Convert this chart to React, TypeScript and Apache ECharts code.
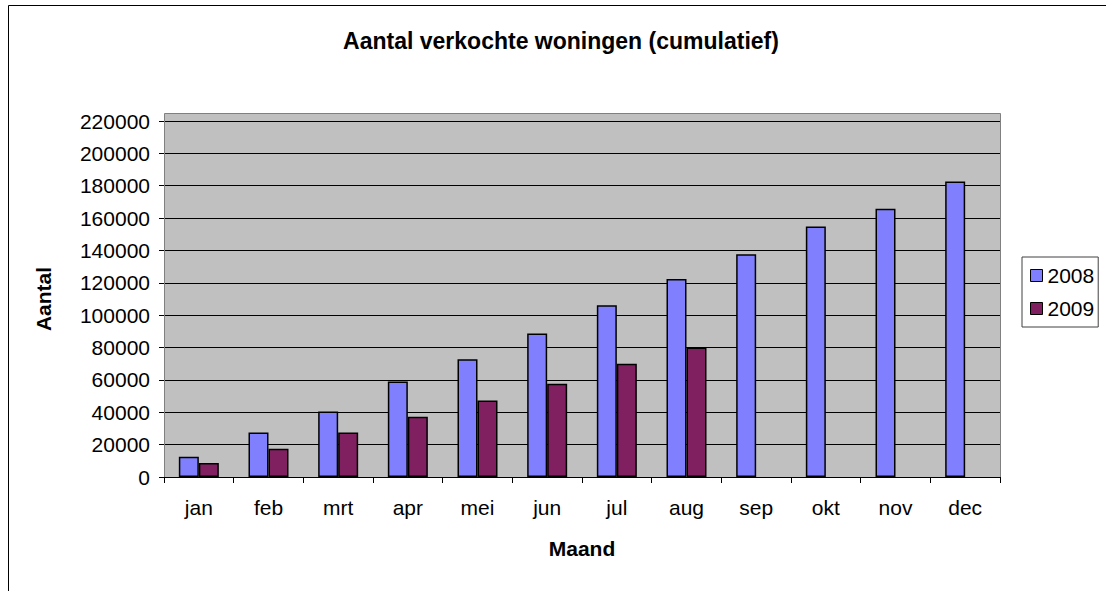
import React, { useEffect, useRef } from "react";
import * as echarts from "echarts";

const months = ["jan", "feb", "mrt", "apr", "mei", "jun", "jul", "aug", "sep", "okt", "nov", "dec"];
const sales2008 = [12500, 27500, 40500, 59000, 72700, 88700, 106200, 122300, 137700, 154800, 165800, 182600];
const sales2009 = [8700, 17500, 27500, 37300, 47300, 57700, 70000, 80000, "-", "-", "-", "-"];
const seriesNames = ["2008", "2009"];
const titleText = "Aantal verkochte woningen (cumulatief)";
const yName = "Aantal";
const xName = "Maand";

const FONT = "Arial, 'Liberation Sans', sans-serif";

export default function App() {
  const ref = useRef<HTMLDivElement>(null);

  useEffect(() => {
    if (!ref.current) return;
    const chart = echarts.init(ref.current, null, { renderer: "svg" });
    const gridLeft = 164;
    const gridRight = 1000;
    const gridTop = 121;
    const gridBottom = 477;
    chart.setOption({
      animation: false,
      backgroundColor: "#ffffff",
      textStyle: { fontFamily: FONT },
      graphic: [
        {
          type: "rect",
          z: -10,
          silent: true,
          shape: { x: 8.5, y: 5.5, width: 1200, height: 800 },
          style: { fill: "#ffffff", stroke: "#000000", lineWidth: 1 },
        },
        {
          type: "rect",
          z: -5,
          silent: true,
          shape: { x: gridLeft + 0.5, y: 113.5, width: gridRight - gridLeft, height: gridBottom - 113 },
          style: { fill: "#C0C0C0", stroke: "#808080", lineWidth: 1 },
        },
        {
          type: "text",
          x: 561,
          y: 41,
          style: {
            text: titleText,
            fontFamily: FONT,
            fontSize: 23,
            fontWeight: "bold",
            fill: "#000000",
            align: "center",
            verticalAlign: "middle",
          },
        },
      ],
      legend: {
        orient: "vertical",
        left: 1022,
        top: 257,
        padding: [8, 4, 8, 8],
        itemGap: 12,
        itemWidth: 12,
        itemHeight: 12,
        borderColor: "#404040",
        borderWidth: 1,
        backgroundColor: "#ffffff",
        icon: "rect",
        data: seriesNames,
        textStyle: { fontFamily: FONT, fontSize: 21, color: "#000000" },
        itemStyle: { borderColor: "#000000", borderWidth: 1 },
      },
      grid: {
        left: gridLeft,
        right: 1106 - gridRight,
        top: gridTop,
        bottom: 591 - gridBottom,
        containLabel: false,
      },
      xAxis: {
        type: "category",
        data: months,
        boundaryGap: true,
        name: xName,
        nameLocation: "middle",
        nameGap: 61,
        nameTextStyle: { fontFamily: FONT, fontSize: 21, fontWeight: "bold", color: "#000000", verticalAlign: "top" },
        axisLine: { show: true, lineStyle: { color: "#000000", width: 1 } },
        axisTick: { show: true, length: 6, lineStyle: { color: "#000000" } },
        axisLabel: { fontFamily: FONT, fontSize: 21, color: "#000000", margin: 20 },
        splitLine: { show: false },
      },
      yAxis: {
        type: "value",
        min: 0,
        max: 220000,
        interval: 20000,
        name: yName,
        nameLocation: "middle",
        nameRotate: 90,
        nameGap: 110,
        nameTextStyle: { fontFamily: FONT, fontSize: 21, fontWeight: "bold", color: "#000000" },
        axisLine: { show: true, lineStyle: { color: "#808080", width: 1 } },
        axisTick: { show: true, length: 5, lineStyle: { color: "#000000" } },
        axisLabel: {
          fontFamily: FONT,
          fontSize: 21,
          color: "#000000",
          margin: 14,
          formatter: (v: number) => String(v),
        },
        splitLine: { show: true, lineStyle: { color: "#000000", width: 1 } },
      },
      series: [
        {
          name: seriesNames[0],
          type: "bar",
          data: sales2008,
          barWidth: 20,
          barGap: "0%",
          itemStyle: { color: "#8080FF", borderColor: "#000000", borderWidth: 1.5 },
        },
        {
          name: seriesNames[1],
          type: "bar",
          data: sales2009,
          barWidth: 20,
          barGap: "0%",
          itemStyle: { color: "#802060", borderColor: "#000000", borderWidth: 1.5 },
        },
      ],
    });
    return () => chart.dispose();
  }, []);

  return (
    <div
      ref={ref}
      style={{ position: "absolute", left: 0, top: 0, width: 1106, height: 591 }}
    />
  );
}
